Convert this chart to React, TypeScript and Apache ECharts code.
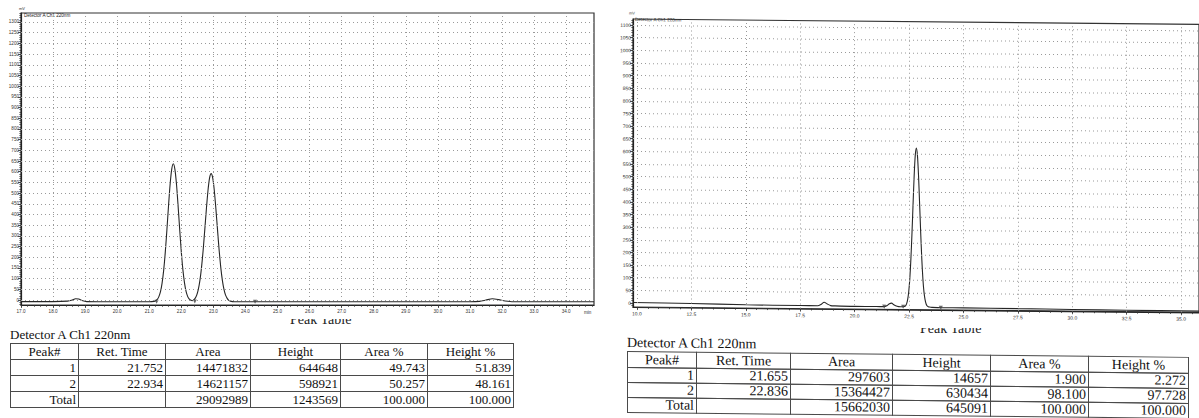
import React, { useEffect, useRef } from "react";
import * as echarts from "echarts";

// ---------------- data: left chromatogram ----------------
const leftTimes = [17.0, 18.0, 18.45, 18.6, 18.7, 18.8, 18.9, 19.05, 20.0, 21.0, 21.15, 21.2, 21.25, 21.3, 21.35, 21.4, 21.45, 21.5, 21.55, 21.6, 21.65, 21.7, 21.75, 21.8, 21.85, 21.9, 21.95, 22.0, 22.05, 22.1, 22.15, 22.2, 22.25, 22.3, 22.34, 22.38, 22.43, 22.48, 22.53, 22.58, 22.63, 22.68, 22.73, 22.78, 22.83, 22.88, 22.93, 22.98, 23.03, 23.08, 23.13, 23.18, 23.23, 23.28, 23.33, 23.38, 23.43, 23.48, 23.53, 23.65, 24.0, 24.4, 26.0, 28.0, 30.0, 31.0, 31.3, 31.5, 31.7, 31.9, 32.1, 32.4, 33.0, 34.87];
const leftSignal = [-7, -7, -5, 0, 6, 5, -2, -7, -8, -8, -6, -3, 3, 16, 39, 79, 140, 224, 328, 439, 540, 611, 637, 611, 540, 439, 328, 224, 140, 79, 39, 16, 4, -1, -3, 0, 8, 23, 50, 92, 153, 232, 326, 423, 510, 570, 591, 570, 510, 423, 326, 232, 153, 92, 50, 23, 8, -1, -5, -8, -8, -8, -8, -8, -8, -8, -6, 0, 6, 2, -4, -8, -8, -8];
const leftMarkTimes = [21.23, 22.42, 24.3];
const leftMarkValues = [-8, -7, -8];

// ---------------- data: right chromatogram ----------------
const rightTimes = [9.82, 12.5, 15.0, 17.5, 18.3, 18.45, 18.6, 18.75, 18.9, 19.1, 20.0, 21.0, 21.35, 21.5, 21.6, 21.7, 21.8, 21.95, 22.1, 22.236, 22.286, 22.336, 22.386, 22.436, 22.486, 22.536, 22.586, 22.636, 22.686, 22.736, 22.786, 22.836, 22.886, 22.936, 22.986, 23.036, 23.086, 23.136, 23.186, 23.236, 23.286, 23.336, 23.386, 23.436, 23.55, 24.0, 25.0, 27.5, 30.0, 32.5, 35.82];
const rightSignal = [2, 0, -3, -4, -4, 1, 10, 3, -3, -4, -5, -5, -5, 0, 7, 9, 3, -3, -5, -5, -4, -1, 7, 24, 55, 107, 186, 288, 404, 515, 595, 624, 595, 515, 404, 288, 186, 107, 55, 24, 7, -1, -4, -5, -6, -7, -7, -8, -9, -10, -11];
const rightMarkTimes = [21.36, 22.23, 23.96];
const rightMarkValues = [-5, -5, -7];

// ---------------- ticks ----------------
const steps = (a: number, b: number, s: number) =>
  Array.from({ length: Math.round((b - a) / s) + 1 }, (_, i) => +(a + i * s).toFixed(3));

const leftXLabels = steps(17, 34, 1);
const leftXMinor = steps(17, 34.8, 0.2);
const leftYLabels = steps(0, 1300, 50);
const leftYMinor = steps(-20, 1340, 10);
const leftGridX = steps(18, 34, 1);
const leftGridY = steps(0, 1300, 50);

const rightXLabels = steps(10, 35, 2.5);
const rightXMinor = steps(10, 35.5, 0.5);
const rightYLabels = steps(0, 1100, 50);
const rightYMinor = steps(-10, 1120, 10);
const rightGridX = steps(10, 35, 2.5);
const rightGridY = steps(50, 1100, 50);

// ---------------- tables ----------------
const tableHeaders = ["Peak#", "Ret. Time", "Area", "Height", "Area %", "Height %"];
const leftPeakNo = ["1", "2", "Total"];
const leftRetTime = ["21.752", "22.934", ""];
const leftArea = ["14471832", "14621157", "29092989"];
const leftHeight = ["644648", "598921", "1243569"];
const leftAreaPct = ["49.743", "50.257", "100.000"];
const leftHeightPct = ["51.839", "48.161", "100.000"];

const rightPeakNo = ["1", "2", "Total"];
const rightRetTime = ["21.655", "22.836", ""];
const rightArea = ["297603", "15364427", "15662030"];
const rightHeight = ["14657", "630434", "645091"];
const rightAreaPct = ["1.900", "98.100", "100.000"];
const rightHeightPct = ["2.272", "97.728", "100.000"];

const detectorLabel = "Detector A Ch1 220nm";
const tableTitle = "Peak Table";

const SANS = '"Liberation Sans", Arial, sans-serif';
const SERIF = '"Liberation Serif", "Times New Roman", serif';

function buildOption(c: any) {
  const pairs = c.times.map((t: number, i: number) => [t, c.signal[i]]);
  const marks = c.markTimes.map((t: number, i: number) => [t, c.markValues[i]]);
  const tickStyle = { color: "#333", width: 0.8 };
  return {
    animation: false,
    grid: {
      left: c.gridLeft, top: c.gridTop, width: c.gridWidth, height: c.gridHeight,
      show: true, borderColor: "#333", borderWidth: 1.2, backgroundColor: "transparent",
    },
    xAxis: [
      {
        type: "value", min: c.xMin, max: c.xMax, position: "bottom",
        axisLine: { show: true, onZero: false, lineStyle: { color: "#222", width: 1.2 } },
        axisTick: { show: true, customValues: c.xLabels, length: 3, lineStyle: tickStyle },
        axisLabel: {
          customValues: c.xLabels, formatter: (v: number) => v.toFixed(1),
          fontSize: c.labelSize, color: "#333", fontFamily: SANS, margin: 4,
        },
        splitLine: { show: false },
      },
      {
        type: "value", min: c.xMin, max: c.xMax, position: "bottom",
        axisLine: { show: false, onZero: false },
        axisTick: { show: true, customValues: c.xMinor, length: 1.8, lineStyle: tickStyle },
        axisLabel: { show: false },
        splitLine: { show: false },
      },
    ],
    yAxis: [
      {
        type: "value", min: c.yMin, max: c.yMax, position: "left",
        axisLine: { show: true, onZero: false, lineStyle: { color: "#222", width: 1.2 } },
        axisTick: { show: true, customValues: c.yLabels, length: 3, lineStyle: tickStyle },
        axisLabel: {
          customValues: c.yLabels, formatter: (v: number) => String(v),
          fontSize: c.labelSize, color: "#333", fontFamily: SANS, margin: 2,
        },
        splitLine: { show: false },
      },
      {
        type: "value", min: c.yMin, max: c.yMax, position: "left",
        axisLine: { show: false, onZero: false },
        axisTick: { show: true, customValues: c.yMinor, length: 1.6, lineStyle: tickStyle },
        axisLabel: { show: false },
        splitLine: { show: false },
      },
    ],
    graphic: [
      { type: "text", left: c.unitPos[0], top: c.unitPos[1], style: { text: "mV", fontSize: 4, fill: "#333", fontFamily: SANS } },
      { type: "text", left: c.titlePos[0], top: c.titlePos[1], style: { text: detectorLabel, fontSize: 4.6, fill: "#222", fontFamily: SANS } },
      ...(c.minPos ? [{ type: "text", left: c.minPos[0], top: c.minPos[1], style: { text: "min", fontSize: 4.6, fill: "#333", fontFamily: SANS } }] : []),
    ],
    series: [
      {
        type: "line", data: pairs, xAxisIndex: 0, yAxisIndex: 0, symbol: "none",
        lineStyle: { opacity: 0 }, silent: true, z: 1,
        markLine: {
          silent: true, symbol: ["none", "none"], label: { show: false },
          lineStyle: { color: "#9a9a9a", type: [1, 3], width: 1 },
          data: [
            ...c.gridY.map((v: number) => ({ yAxis: v })),
            ...c.gridX.map((v: number) => ({ xAxis: v })),
          ],
        },
      },
      {
        type: "line", data: pairs, xAxisIndex: 0, yAxisIndex: 0, symbol: "none",
        smooth: 0.25, lineStyle: { color: "#262626", width: 1.1 }, z: 3, silent: true,
      },
      {
        type: "scatter", data: marks, xAxisIndex: 0, yAxisIndex: 0,
        symbol: "triangle", symbolRotate: 180, symbolSize: 4,
        itemStyle: { color: "#444" }, z: 4, silent: true,
      },
    ],
  };
}

const leftOption = buildOption({
  times: leftTimes, signal: leftSignal, markTimes: leftMarkTimes, markValues: leftMarkValues,
  gridLeft: 21, gridTop: 13, gridWidth: 573, gridHeight: 292,
  xMin: 17, xMax: 34.87, yMin: -23, yMax: 1342,
  xLabels: leftXLabels, xMinor: leftXMinor, yLabels: leftYLabels, yMinor: leftYMinor,
  gridX: leftGridX, gridY: leftGridY, labelSize: 4.6,
  unitPos: [19, 6], titlePos: [24, 13], minPos: [584, 310],
});

const rightOption = buildOption({
  times: rightTimes, signal: rightSignal, markTimes: rightMarkTimes, markValues: rightMarkValues,
  gridLeft: 35, gridTop: 19, gridWidth: 570, gridHeight: 288,
  xMin: 9.82, xMax: 35.82, yMin: -16, yMax: 1124,
  xLabels: rightXLabels, xMinor: rightXMinor, yLabels: rightYLabels, yMinor: rightYMinor,
  gridX: rightGridX, gridY: rightGridY, labelSize: 5,
  unitPos: [31, 11], titlePos: [37, 17], minPos: null,
});

function PeakTableBox(props: any) {
  const { left, top, colW, rowH, fontSize, columns, transform } = props;
  const xs: number[] = [];
  colW.reduce((acc: number, w: number) => { xs.push(acc); return acc + w; }, 0);
  const ys: number[] = [];
  rowH.reduce((acc: number, h: number) => { ys.push(acc); return acc + h; }, 0);
  const cells: any[] = [];
  for (let r = 0; r < rowH.length; r++) {
    for (let c = 0; c < colW.length; c++) {
      const text = r === 0 ? tableHeaders[c] : columns[c][r - 1];
      cells.push(
        <div key={r + "-" + c} style={{
          position: "absolute", left: xs[c], top: ys[r], width: colW[c] + 1, height: rowH[r] + 1,
          border: "1px solid #4a4a4a", boxSizing: "border-box",
          textAlign: r === 0 ? "center" : "right", padding: "0 2px",
          lineHeight: rowH[r] - 1 + "px", fontSize, fontFamily: SERIF, color: "#111",
          whiteSpace: "nowrap", overflow: "hidden",
        }}>{text}</div>
      );
    }
  }
  return (
    <div style={{ position: "absolute", left, top, transform, transformOrigin: "0 0" }}>
      {cells}
    </div>
  );
}

// the scanned "Peak Table" caption is hidden behind the plot; only its lower half shows
function ClippedTitle(props: any) {
  return (
    <div style={{ position: "absolute", left: props.left, top: props.top, width: 80, height: 7, overflow: "hidden" }}>
      <div style={{ position: "absolute", left: 0, top: -2, height: 6, fontFamily: SERIF, fontSize: 14, lineHeight: "6px", whiteSpace: "nowrap", color: "#222" }}>
        {tableTitle}
      </div>
    </div>
  );
}

export default function App() {
  const leftRef = useRef<HTMLDivElement>(null);
  const rightRef = useRef<HTMLDivElement>(null);
  useEffect(() => {
    const l = echarts.init(leftRef.current as HTMLDivElement, null, { renderer: "svg" });
    l.setOption(leftOption as any);
    const r = echarts.init(rightRef.current as HTMLDivElement, null, { renderer: "svg" });
    r.setOption(rightOption as any);
    return () => { l.dispose(); r.dispose(); };
  }, []);
  return (
    <div style={{ position: "absolute", left: 0, top: 0, width: 1199, height: 418, overflow: "hidden", background: "#fff" }}>
      <div ref={leftRef} style={{ position: "absolute", left: 0, top: 0, width: 598, height: 330 }} />
      <div ref={rightRef} style={{ position: "absolute", left: 598, top: 0, width: 601, height: 330, transform: "skewY(0.55deg)", transformOrigin: "35px 0px" }} />

      <ClippedTitle left={290} top={319} />
      <ClippedTitle left={920} top={328} />

      <div style={{ position: "absolute", left: 10, top: 327, fontFamily: SERIF, fontSize: 13, lineHeight: "15px", color: "#111", whiteSpace: "nowrap" }}>{detectorLabel}</div>
      <PeakTableBox left={10} top={343} colW={[68, 87, 85, 90, 87, 86]} rowH={[16, 16, 16, 16]} fontSize={13}
        columns={[leftPeakNo, leftRetTime, leftArea, leftHeight, leftAreaPct, leftHeightPct]} />

      <div style={{ position: "absolute", left: 627, top: 335, fontFamily: SERIF, fontSize: 14, lineHeight: "16px", color: "#111", whiteSpace: "nowrap", transform: "skewY(0.6deg)", transformOrigin: "0 0" }}>{detectorLabel}</div>
      <PeakTableBox left={627} top={351} colW={[69, 94, 102, 98, 98, 100]} rowH={[16, 15, 15, 15]} fontSize={14}
        transform="skewY(0.6deg)"
        columns={[rightPeakNo, rightRetTime, rightArea, rightHeight, rightAreaPct, rightHeightPct]} />
    </div>
  );
}
